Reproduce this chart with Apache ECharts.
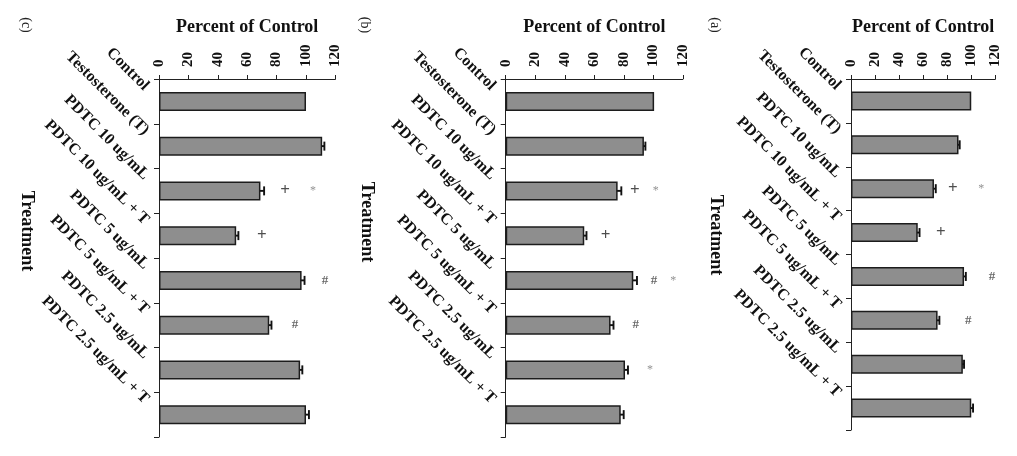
<!DOCTYPE html>
<html>
<head>
<meta charset="utf-8">
<script src="https://cdn.jsdelivr.net/npm/echarts@6/dist/echarts.min.js"></script>
<style>html,body{margin:0;padding:0;background:#fff;}#c{width:1017px;height:456px;}</style>
</head>
<body>
<div id="c"></div>
<script>
const categories = ['Control', 'Testosterone (T)', 'PDTC 10 ug/mL', 'PDTC 10 ug/mL + T', 'PDTC 5 ug/mL', 'PDTC 5 ug/mL + T', 'PDTC 2.5 ug/mL', 'PDTC 2.5 ug/mL + T'];
const valueTicks = [0, 20, 40, 60, 80, 100, 120];
const panelNames = ['(c)', '(b)', '(a)'];

// panel (c)
const valuesC = [100, 111, 69, 52.5, 97, 75, 96, 100];
const errorsC = [0, 1.5, 2.5, 1.5, 2, 1.5, 1.5, 2];
const marksC = [[2, 85.7, '+'], [2, 104.8, '*'], [3, 70, '+'], [4, 113, '#'], [5, 92.5, '#']];
// panel (b)
const valuesB = [100.5, 93.6, 75.8, 53.2, 86.4, 71, 80.8, 77.9];
const errorsB = [0, 1, 2.5, 1.5, 2.5, 2, 2, 2];
const marksB = [[2, 87.5, '+'], [2, 101.6, '*'], [3, 67.7, '+'], [4, 100.4, '#'], [4, 113.5, '*'], [5, 88, '#'], [6, 97.7, '*']];
// panel (a)
const valuesA = [100, 89.4, 69, 55.5, 94, 72, 93, 100];
const errorsA = [0, 1, 1.5, 1.5, 1.5, 1.5, 1, 1.5];
const marksA = [[2, 84.7, '+'], [2, 108.3, '*'], [3, 74.8, '+'], [4, 117.3, '#'], [5, 97.6, '#']];

const panels = [
  {values: valuesC, errors: errorsC, marks: marksC, grid: {left: 159, top: 79, width: 176.4, height: 358}, label: [26, 25], treat: [27, 231]},
  {values: valuesB, errors: errorsB, marks: marksB, grid: {left: 505.7, top: 79, width: 177.2, height: 358}, label: [365, 25], treat: [367, 222]},
  {values: valuesA, errors: errorsA, marks: marksA, grid: {left: 851, top: 79, width: 144.3, height: 351}, label: [715, 25], treat: [716, 235]}
];

const FONT = '"Liberation Serif", "Times New Roman", serif';
const grids = [], xAxes = [], yAxes = [], series = [], graphics = [];

panels.forEach((p, i) => {
  grids.push(Object.assign({containLabel: false}, p.grid));
  xAxes.push({
    type: 'value', gridIndex: i, position: 'top', min: valueTicks[0], max: valueTicks[valueTicks.length - 1],
    interval: valueTicks[1] - valueTicks[0],
    name: 'Percent of Control', nameLocation: 'middle', nameGap: 43,
    nameTextStyle: {fontFamily: FONT, fontWeight: 'bold', fontSize: 18, color: '#111'},
    axisLine: {show: true, lineStyle: {color: '#222', width: 1}},
    axisTick: {show: true, length: 4, lineStyle: {color: '#222'}},
    splitLine: {show: false},
    axisLabel: {rotate: -90, margin: 12, fontFamily: FONT, fontWeight: 'bold', fontSize: 15, color: '#111'}
  });
  yAxes.push({
    type: 'category', gridIndex: i, data: categories, inverse: true,
    axisLine: {show: true, lineStyle: {color: '#222', width: 1}},
    axisTick: {show: true, length: 5, lineStyle: {color: '#222'}},
    axisLabel: {rotate: -45, margin: 26, verticalAlign: 'bottom', padding: [0, 0, 11, 0], fontFamily: FONT, fontWeight: 'bold', fontSize: 16, color: '#111', interval: 0}
  });
  series.push({
    type: 'bar', xAxisIndex: i, yAxisIndex: i, data: p.values, barWidth: 19,
    itemStyle: {color: '#8e8e8e', borderColor: '#1c1c1c', borderWidth: 1.5},
    silent: true, animation: false
  });
  series.push({
    type: 'custom', xAxisIndex: i, yAxisIndex: i,
    data: p.values.map((v, k) => [v, p.errors[k], k]),
    encode: {x: 0, y: 2},
    renderItem: function (params, api) {
      const v = api.value(0), e = api.value(1), c = api.value(2);
      if (!e) return null;
      const a = api.coord([v - e, c]), b = api.coord([v + e, c]);
      const h = 4.5;
      const st = {stroke: '#111', lineWidth: 1.9};
      return {type: 'group', children: [
        {type: 'line', shape: {x1: a[0], y1: a[1], x2: b[0], y2: b[1]}, style: st},
        {type: 'line', shape: {x1: a[0], y1: a[1] - h, x2: a[0], y2: a[1] + h}, style: st},
        {type: 'line', shape: {x1: b[0], y1: b[1] - h, x2: b[0], y2: b[1] + h}, style: st}
      ]};
    },
    silent: true, animation: false
  });
  series.push({
    type: 'scatter', xAxisIndex: i, yAxisIndex: i, symbol: 'circle', symbolSize: 2,
    itemStyle: {color: 'rgba(255,255,255,0)'},
    clip: false,
    data: p.marks.map(m => ({
      value: [m[1], m[0]],
      label: {
        show: true, position: 'inside', formatter: m[2], fontFamily: FONT,
        fontSize: m[2] === '*' ? 12 : (m[2] === '+' ? 17 : 13),
        fontWeight: m[2] === '*' ? 'normal' : 'bold',
        color: m[2] === '+' ? '#222' : (m[2] === '#' ? '#444' : '#777')
      }
    })),
    silent: true, animation: false
  });
  graphics.push({
    type: 'text', x: p.label[0], y: p.label[1], rotation: -Math.PI / 2,
    style: {text: panelNames[i], font: '14px ' + FONT, fill: '#222', textAlign: 'center', textVerticalAlign: 'middle'}
  });
  graphics.push({
    type: 'text', x: p.treat[0], y: p.treat[1], rotation: -Math.PI / 2,
    style: {text: 'Treatment', font: 'bold 18px ' + FONT, fill: '#111', textAlign: 'center', textVerticalAlign: 'middle'}
  });
});

const chart = echarts.init(document.getElementById('c'));
chart.setOption({
  backgroundColor: '#ffffff', animation: false,
  grid: grids, xAxis: xAxes, yAxis: yAxes, series: series, graphic: graphics
});
</script>
</body>
</html>
